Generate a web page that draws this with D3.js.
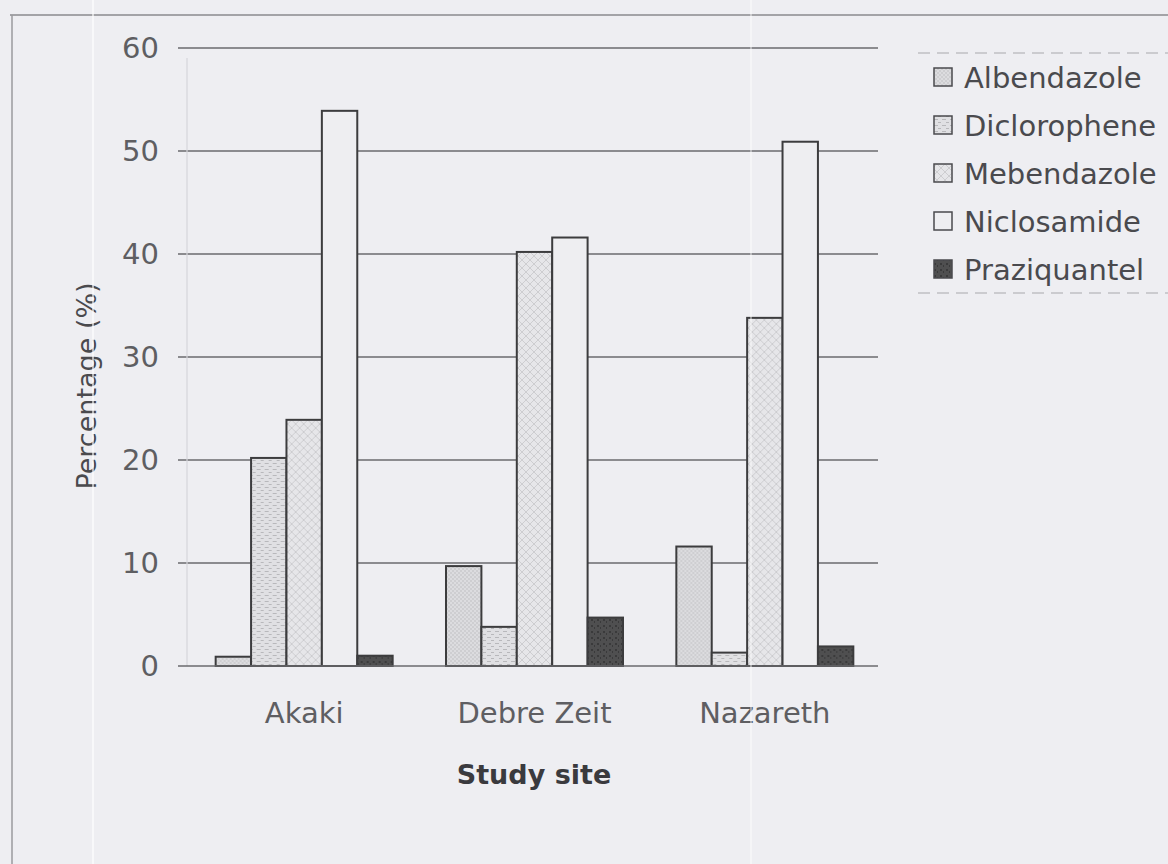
<!DOCTYPE html>
<html>
<head>
<meta charset="utf-8">
<script src="https://cdn.jsdelivr.net/npm/d3@7"></script>
<style>
  html, body { margin: 0; padding: 0; background: #eeeef2; }
  svg { display: block; }
  text { font-family: "DejaVu Sans", sans-serif; }
</style>
</head>
<body>
<svg id="chart" width="1168" height="864"></svg>
<script>
// Study sites (x categories) and drug series
const sites = ["Akaki", "Debre Zeit", "Nazareth"];
const drugs = ["Albendazole", "Diclorophene", "Mebendazole", "Niclosamide", "Praziquantel"];

// Percentage per site, one array per drug (same order as sites)
const albendazole  = [0.9, 9.7, 11.6];
const diclorophene = [20.2, 3.8, 1.3];
const mebendazole  = [23.9, 40.2, 33.8];
const niclosamide  = [53.9, 41.6, 50.9];
const praziquantel = [1.0, 4.7, 1.9];

const yTicks = [0, 10, 20, 30, 40, 50, 60];

const seriesValues = {
  "Albendazole": albendazole,
  "Diclorophene": diclorophene,
  "Mebendazole": mebendazole,
  "Niclosamide": niclosamide,
  "Praziquantel": praziquantel
};

const svg = d3.select("#chart");
const W = 1168, H = 864;

svg.append("rect").attr("width", W).attr("height", H).attr("fill", "#eeeef2");

// Fill patterns for each drug
const defs = svg.append("defs");

function dotPattern(id, bg, dot, size, r) {
  const p = defs.append("pattern").attr("id", id)
    .attr("patternUnits", "userSpaceOnUse").attr("width", size).attr("height", size);
  p.append("rect").attr("width", size).attr("height", size).attr("fill", bg);
  p.append("circle").attr("cx", size / 4).attr("cy", size / 4).attr("r", r).attr("fill", dot);
  p.append("circle").attr("cx", size * 3 / 4).attr("cy", size * 3 / 4).attr("r", r).attr("fill", dot);
}
function dashPattern(id, bg, ink) {
  const p = defs.append("pattern").attr("id", id)
    .attr("patternUnits", "userSpaceOnUse").attr("width", 8).attr("height", 6);
  p.append("rect").attr("width", 8).attr("height", 6).attr("fill", bg);
  p.append("rect").attr("x", 1).attr("y", 1).attr("width", 4).attr("height", 1).attr("fill", ink);
  p.append("rect").attr("x", 5).attr("y", 4).attr("width", 3).attr("height", 1).attr("fill", ink);
}
function crossPattern(id, bg, ink) {
  const p = defs.append("pattern").attr("id", id)
    .attr("patternUnits", "userSpaceOnUse").attr("width", 8).attr("height", 8);
  p.append("rect").attr("width", 8).attr("height", 8).attr("fill", bg);
  p.append("path").attr("d", "M0,0L8,8M8,0L0,8").attr("stroke", ink).attr("stroke-width", 0.8);
}
function noisePattern(id, bg, ink) {
  const p = defs.append("pattern").attr("id", id)
    .attr("patternUnits", "userSpaceOnUse").attr("width", 6).attr("height", 6);
  p.append("rect").attr("width", 6).attr("height", 6).attr("fill", bg);
  p.append("rect").attr("x", 1).attr("y", 1).attr("width", 2).attr("height", 2).attr("fill", ink);
  p.append("rect").attr("x", 4).attr("y", 3).attr("width", 1).attr("height", 2).attr("fill", ink);
}
dotPattern("pat-alb", "#dcdcdf", "#bdbdc0", 4, 0.8);
dashPattern("pat-dic", "#e0e0e3", "#b8b8bb");
crossPattern("pat-meb", "#e6e6e9", "#c6c6c9");
noisePattern("pat-pra", "#4f4f50", "#3a3a3b");

const fills = {
  "Albendazole": "url(#pat-alb)",
  "Diclorophene": "url(#pat-dic)",
  "Mebendazole": "url(#pat-meb)",
  "Niclosamide": "#eeeef1",
  "Praziquantel": "url(#pat-pra)"
};

// Page frame
svg.append("line").attr("x1", 10).attr("x2", W).attr("y1", 15).attr("y2", 15)
  .attr("stroke", "#8a8a8e").attr("stroke-width", 1.5);
svg.append("line").attr("x1", 12).attr("x2", 12).attr("y1", 15).attr("y2", H)
  .attr("stroke", "#9a9a9e").attr("stroke-width", 1.5);

// Scales
const plotLeft = 178, plotRight = 878;
const x0 = d3.scaleBand().domain(sites).range([189, 880]).padding(0);
const groupW = 177;
const x1 = d3.scaleBand().domain(drugs).range([0, groupW]).padding(0);
const y = d3.scaleLinear().domain([0, 60]).range([666, 48]);

// Gridlines
svg.append("g").selectAll("line").data(yTicks.filter(t => t > 0)).join("line")
  .attr("x1", plotLeft).attr("x2", plotRight)
  .attr("y1", d => y(d)).attr("y2", d => y(d))
  .attr("stroke", "#6a6a6e").attr("stroke-width", 1.4);

// Faint value axis
svg.append("line").attr("x1", 187).attr("x2", 187).attr("y1", y(60) + 10).attr("y2", y(0))
  .attr("stroke", "#d6d6da").attr("stroke-width", 1.2);

// Y tick labels
const yAxis = d3.axisLeft(y).tickValues(yTicks).tickSize(0).tickPadding(0);
const gy = svg.append("g").attr("transform", "translate(159,0)").call(yAxis);
gy.select(".domain").remove();
gy.selectAll("text")
  .attr("font-family", "DejaVu Sans, sans-serif")
  .attr("font-size", 29)
  .attr("fill", "#5e5e62");

// Bars
const groups = svg.append("g").selectAll("g").data(sites).join("g")
  .attr("transform", d => `translate(${x0(d) + (x0.bandwidth() - groupW) / 2},0)`);

groups.selectAll("rect")
  .data((site, i) => drugs.map(drug => ({ drug, value: seriesValues[drug][i] })))
  .join("rect")
  .attr("x", d => x1(d.drug))
  .attr("y", d => y(d.value))
  .attr("width", x1.bandwidth())
  .attr("height", d => y(0) - y(d.value))
  .attr("fill", d => fills[d.drug])
  .attr("stroke", "#3c3c3e")
  .attr("stroke-width", 2);

// Baseline
svg.append("line").attr("x1", plotLeft).attr("x2", plotRight)
  .attr("y1", y(0)).attr("y2", y(0))
  .attr("stroke", "#6a6a6e").attr("stroke-width", 1.4);

// X category labels
const xAxis = d3.axisBottom(x0).tickSize(0).tickPadding(0);
const gx = svg.append("g").attr("transform", "translate(0,702)").call(xAxis);
gx.select(".domain").remove();
gx.selectAll("text")
  .attr("font-family", "DejaVu Sans, sans-serif")
  .attr("font-size", 29)
  .attr("fill", "#5e5e62");

// Axis titles
svg.append("text")
  .attr("x", 534).attr("y", 784)
  .attr("text-anchor", "middle")
  .attr("font-size", 27).attr("font-weight", "bold")
  .attr("fill", "#3a3a3e")
  .text("Study site");

svg.append("text")
  .attr("transform", "translate(96,386) rotate(-90)")
  .attr("text-anchor", "middle")
  .attr("font-size", 27)
  .attr("fill", "#4a4a4e")
  .text("Percentage (%)");

// Light streaks across the sheet
svg.append("line").attr("x1", 93).attr("x2", 93).attr("y1", 0).attr("y2", H)
  .attr("stroke", "#ffffff").attr("stroke-width", 1.5).attr("opacity", 0.8);
svg.append("line").attr("x1", 751).attr("x2", 751).attr("y1", 0).attr("y2", H)
  .attr("stroke", "#ffffff").attr("stroke-width", 1.2).attr("opacity", 0.7);

// Legend
const legend = svg.append("g");
legend.append("line").attr("x1", 918).attr("x2", W).attr("y1", 53).attr("y2", 53)
  .attr("stroke", "#a8a8ac").attr("stroke-width", 1.2).attr("stroke-dasharray", "12,7");
legend.append("line").attr("x1", 918).attr("x2", W).attr("y1", 293).attr("y2", 293)
  .attr("stroke", "#a8a8ac").attr("stroke-width", 1.2).attr("stroke-dasharray", "12,7");

const legY = d3.scalePoint().domain(drugs).range([88, 280]);
const items = legend.selectAll("g.item").data(drugs).join("g").attr("class", "item")
  .attr("transform", d => `translate(933,${legY(d)})`);
items.append("rect")
  .attr("x", 1).attr("y", -20).attr("width", 18).attr("height", 18)
  .attr("fill", d => fills[d])
  .attr("stroke", "#4a4a4e").attr("stroke-width", 1.5);
items.append("text")
  .attr("x", 31).attr("y", 0)
  .attr("font-size", 29)
  .attr("fill", "#4a4a4e")
  .text(d => d);
</script>
</body>
</html>
